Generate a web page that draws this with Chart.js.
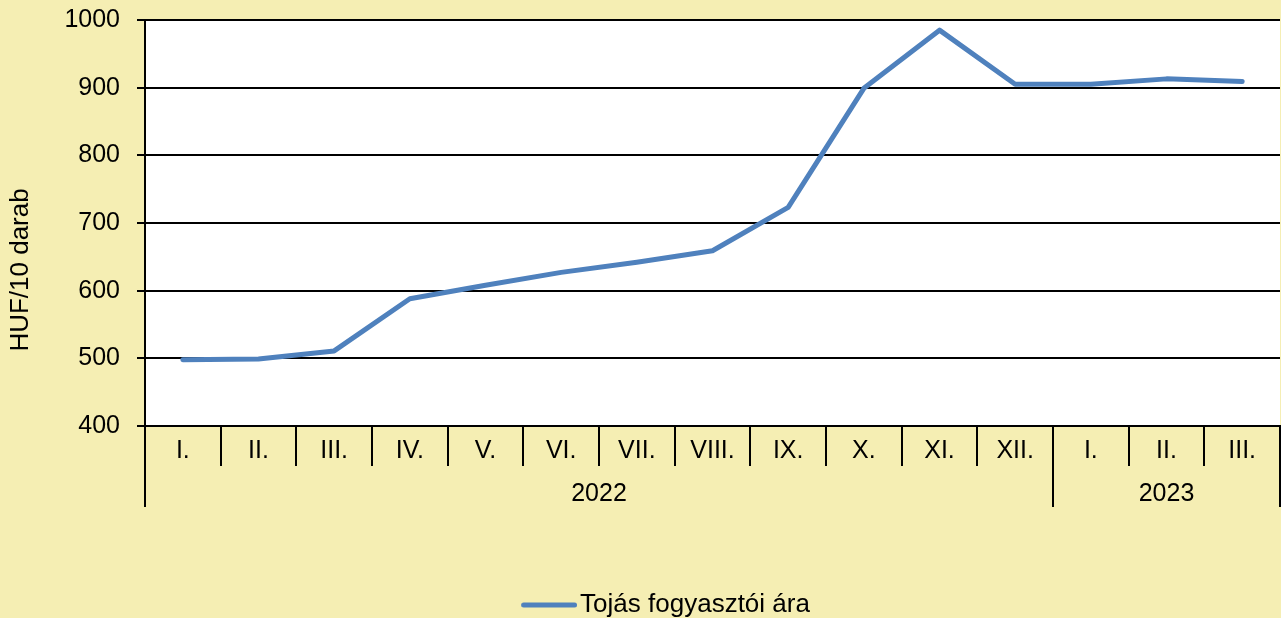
<!DOCTYPE html>
<html>
<head>
<meta charset="utf-8">
<script src="https://cdn.jsdelivr.net/npm/chart.js@4/dist/chart.umd.min.js"></script>
<style>
  html, body { margin: 0; padding: 0; background: #F5EEB3; }
  canvas { display: block; }
</style>
</head>
<body>
<canvas id="c" width="1281" height="618"></canvas>
<script>
// ---- data ----
const months = ['I.','II.','III.','IV.','V.','VI.','VII.','VIII.','IX.','X.','XI.','XII.','I.','II.','III.'];
const years = ['2022', '2023'];
const monthsPerYear = [12, 3];
const prices = [498, 499, 511, 588, 608, 627, 642, 659, 723, 899, 985, 905, 905, 913, 909];
const seriesName = 'Tojás fogyasztói ára';
const yTitle = 'HUF/10 darab';
const yMin = 400, yMax = 1000, yStep = 100;

// year boundaries and centres on a 0..N linear scale
const yearBounds = [0];
monthsPerYear.forEach(n => yearBounds.push(yearBounds[yearBounds.length - 1] + n));
const yearCentres = years.map((y, i) => (yearBounds[i] + yearBounds[i + 1]) / 2);

const FONT = 'Liberation Sans, Arial, sans-serif';
const LINE = '#4F81BD';
Chart.defaults.color = '#000';
Chart.defaults.font.family = FONT;

// legend marker: line drawn at the right part of a wider transparent image
const boxW = 97;
const mark = document.createElement('canvas');
mark.width = 117; mark.height = 8;
(function () {
  const g = mark.getContext('2d');
  g.strokeStyle = LINE; g.lineWidth = 5; g.lineCap = 'round';
  g.beginPath(); g.moveTo(61 + 2.5, 4); g.lineTo(117 - 2.5, 4); g.stroke();
})();

const plotBg = {
  id: 'plotBg',
  beforeDraw(chart) {
    const { ctx, chartArea: a } = chart;
    ctx.save();
    ctx.fillStyle = '#FFFFFF';
    ctx.fillRect(a.left, a.top, a.right - a.left, a.bottom - a.top);
    ctx.restore();
  }
};

new Chart(document.getElementById('c'), {
  type: 'line',
  data: {
    labels: months,
    datasets: [{
      label: seriesName,
      data: prices,
      borderColor: LINE,
      backgroundColor: LINE,
      borderWidth: 5,
      borderCapStyle: 'round',
      borderJoinStyle: 'round',
      pointRadius: 0,
      tension: 0,
      fill: false
    }]
  },
  options: {
    responsive: false,
    animation: false,
    layout: { padding: { top: 20, right: 1, left: 0, bottom: -10 } },
    plugins: {
      tooltip: { enabled: false },
      legend: {
        position: 'bottom',
        labels: {
          usePointStyle: true,
          pointStyle: mark,
          pointStyleWidth: boxW,
          padding: 2,
          font: { size: 26, family: FONT },
          color: '#000'
        }
      }
    },
    scales: {
      x: {
        type: 'category',
        offset: true,
        weight: 0,
        afterFit(s) { s.height = 40; },
        grid: {
          offset: true,
          drawOnChartArea: false,
          color: '#000',
          lineWidth: 2,
          tickLength: 40
        },
        border: { display: true, color: '#000', width: 2 },
        ticks: {
          autoSkip: false,
          maxRotation: 0,
          padding: -30,
          font: { size: 25, family: FONT },
          color: '#000'
        }
      },
      x2: {
        type: 'linear',
        position: 'bottom',
        weight: 1,
        min: 0,
        max: months.length,
        afterFit(s) { s.height = 124; },
        afterBuildTicks(s) {
          const vals = [...yearBounds, ...yearCentres].sort((a, b) => a - b);
          s.ticks = vals.map(v => ({ value: v }));
        },
        grid: {
          drawOnChartArea: false,
          tickLength: 41,
          lineWidth: 2,
          color: (c) => (c.tick && yearBounds.includes(c.tick.value)) ? '#000' : 'rgba(0,0,0,0)'
        },
        border: { display: false },
        ticks: {
          autoSkip: false,
          maxRotation: 0,
          padding: -28,
          font: { size: 25, family: FONT },
          color: '#000',
          callback(v) {
            const i = yearCentres.indexOf(v);
            return i >= 0 ? years[i] : '';
          }
        }
      },
      y: {
        min: yMin,
        max: yMax,
        afterFit(s) { s.width = 145; s.paddingTop = 0; s.paddingBottom = 0; },
        grid: { color: '#000', lineWidth: 2, tickLength: 8 },
        border: { display: true, color: '#000', width: 2 },
        ticks: {
          stepSize: yStep,
          padding: 17,
          font: { size: 25, family: FONT },
          color: '#000',
          callback: (v) => String(v)
        },
        title: {
          display: true,
          text: yTitle + '             ',
          padding: { top: 5, bottom: 0 },
          font: { size: 26, family: FONT },
          color: '#000'
        }
      }
    }
  },
  plugins: [plotBg]
});
</script>
</body>
</html>
